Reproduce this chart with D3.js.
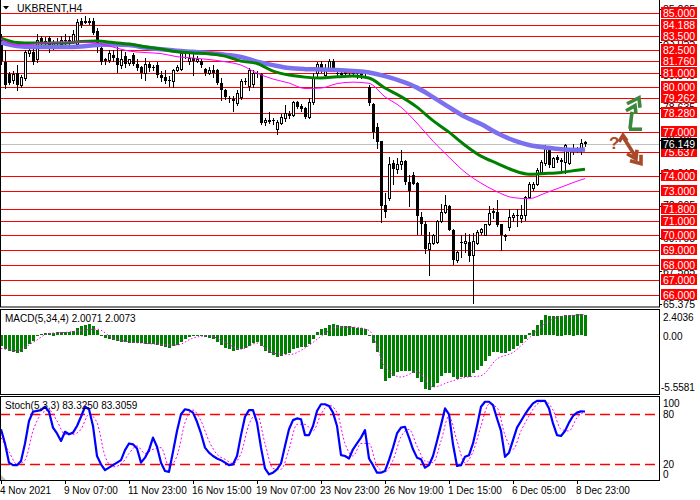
<!DOCTYPE html>
<html>
<head>
<meta charset="utf-8">
<script src="https://cdn.jsdelivr.net/npm/d3@7"></script>
<style>
  html, body { margin: 0; padding: 0; background: #fff; }
  svg { display: block; font-family: "Liberation Sans", Arial, sans-serif; }
</style>
</head>
<body>
<svg id="chart" width="700" height="500"></svg>
<script>
// ---- candles (H4) ----
const openP = [
  83.40, 81.70, 80.90, 80.50, 80.95, 80.15, 80.60, 82.30, 82.40, 81.90,
  83.30, 83.10, 83.30, 82.80, 83.00, 82.90, 83.20, 83.10, 83.10, 82.90,
  84.50, 84.45, 84.40, 84.45, 83.80, 82.65, 81.90, 81.85, 82.20, 82.00,
  81.50, 82.10, 81.65, 82.20, 81.60, 81.40, 80.95, 81.60, 81.35, 81.50,
  80.85, 80.70, 80.50, 80.40, 81.20, 81.25, 82.30, 81.80, 82.00, 81.80,
  81.75, 81.25, 80.95, 81.15, 81.20, 80.30, 79.85, 79.30, 79.20, 78.95,
  79.35, 80.40, 80.10, 80.20, 81.00, 80.90, 77.65, 77.75, 77.80, 77.20,
  77.60, 77.90, 78.20, 78.10, 79.00, 78.75, 78.60, 78.00, 79.00, 80.95,
  81.60, 80.85, 81.30, 81.75, 81.00, 80.95, 81.00, 81.05, 81.00, 80.95,
  80.90, 81.00, 80.04, 78.90, 77.33, 76.36, 72.04, 72.49, 74.90, 74.45,
  74.85, 75.00, 73.60, 74.06, 73.55, 71.25, 70.80, 69.10, 69.50, 69.55,
  70.98, 71.60, 71.99, 70.39, 68.32, 69.55, 69.50, 69.55, 68.70, 69.45,
  70.20, 70.05, 70.80, 71.60, 71.60, 70.75, 70.00, 70.57, 71.25, 71.35,
  71.14, 71.36, 72.60, 73.17, 73.50, 74.30, 74.86, 75.80, 74.63, 75.30,
  75.08, 74.97, 74.86, 75.90, 75.80, 75.86, 76.32
];
const highP = [
  83.60, 82.50, 81.05, 81.10, 81.50, 80.80, 82.50, 82.70, 82.60, 83.60,
  83.50, 83.40, 83.50, 83.20, 83.30, 83.50, 83.60, 83.50, 83.90, 84.60,
  84.70, 84.80, 84.70, 84.70, 84.00, 82.90, 82.00, 82.50, 82.50, 82.70,
  82.50, 82.40, 81.90, 82.30, 81.90, 81.45, 82.00, 81.70, 81.50, 81.70,
  81.10, 81.20, 80.75, 81.25, 81.50, 82.40, 82.50, 82.30, 82.30, 82.10,
  81.90, 81.30, 81.40, 81.50, 81.25, 80.60, 79.90, 79.40, 79.40, 79.80,
  80.55, 80.60, 81.30, 81.20, 81.10, 81.00, 77.90, 78.30, 77.90, 77.80,
  78.20, 78.80, 78.40, 79.05, 79.10, 78.90, 78.70, 79.30, 81.00, 81.70,
  81.75, 81.60, 81.90, 81.90, 81.20, 81.20, 81.20, 81.20, 81.15, 81.10,
  81.10, 81.10, 80.15, 78.95, 77.56, 76.40, 72.83, 75.30, 75.08, 75.20,
  75.80, 75.10, 74.10, 74.30, 73.60, 71.60, 71.00, 70.20, 70.10, 71.02,
  72.10, 72.70, 72.04, 70.46, 68.93, 70.00, 70.15, 70.10, 70.16, 70.39,
  70.50, 70.80, 71.97, 71.88, 72.42, 70.80, 70.10, 71.75, 71.50, 71.75,
  72.04, 72.65, 73.60, 73.60, 74.52, 75.08, 76.10, 75.98, 75.30, 75.42,
  75.20, 76.16, 75.90, 76.16, 76.00, 76.50, 76.39
];
const lowP = [
  81.60, 79.95, 80.20, 80.30, 79.80, 80.00, 80.50, 82.10, 81.60, 81.70,
  82.90, 82.80, 82.40, 82.60, 82.70, 82.80, 82.90, 82.90, 83.00, 82.80,
  84.10, 84.35, 84.30, 83.60, 82.40, 81.60, 81.60, 81.70, 81.80, 81.05,
  81.30, 81.40, 81.50, 81.50, 81.20, 80.60, 80.50, 81.10, 81.20, 80.70,
  80.40, 80.30, 80.10, 80.05, 81.10, 81.15, 82.00, 81.60, 80.80, 81.70,
  81.40, 80.80, 80.90, 80.70, 80.20, 79.14, 79.20, 79.00, 78.40, 78.80,
  79.20, 80.20, 79.80, 80.00, 80.70, 77.50, 77.45, 77.60, 77.50, 76.85,
  77.50, 77.75, 77.90, 78.05, 78.60, 78.40, 77.95, 77.90, 78.90, 80.70,
  81.05, 80.70, 81.20, 81.10, 80.80, 80.80, 80.90, 80.85, 80.80, 80.60,
  80.60, 80.85, 78.80, 76.60, 75.93, 70.90, 71.25, 72.37, 73.50, 74.20,
  74.50, 73.50, 72.00, 73.45, 70.10, 70.10, 68.80, 67.30, 69.44, 69.50,
  70.90, 71.50, 70.35, 68.05, 68.20, 68.55, 68.90, 68.30, 65.40, 69.40,
  70.10, 70.00, 70.70, 71.20, 70.62, 68.99, 69.70, 70.35, 71.00, 70.62,
  70.90, 71.02, 72.55, 73.05, 73.40, 74.20, 74.74, 74.63, 74.63, 74.97,
  74.40, 74.18, 74.80, 75.53, 75.60, 75.53, 76.03
];
const closeP = [
  81.75, 80.15, 80.30, 80.90, 80.15, 80.70, 82.40, 82.50, 81.70, 83.20,
  83.05, 83.15, 82.70, 83.00, 82.90, 83.20, 83.10, 83.20, 83.60, 84.40,
  84.20, 84.35, 84.50, 83.65, 82.70, 81.70, 81.80, 82.30, 81.95, 81.50,
  81.90, 81.60, 81.90, 81.60, 81.30, 80.95, 81.60, 81.30, 81.30, 80.85,
  80.60, 80.40, 80.40, 81.20, 81.40, 82.30, 82.25, 82.00, 81.80, 81.90,
  81.50, 80.95, 81.15, 81.00, 80.30, 79.80, 79.35, 79.20, 79.10, 79.60,
  80.40, 80.35, 81.15, 81.00, 80.90, 77.60, 77.80, 77.80, 77.70, 77.67,
  78.00, 78.25, 78.05, 79.00, 78.70, 78.55, 78.00, 79.00, 80.70, 81.60,
  81.30, 81.30, 81.75, 81.30, 80.90, 81.00, 81.05, 81.00, 80.95, 80.90,
  81.00, 80.95, 78.91, 76.99, 76.32, 71.99, 71.58, 74.85, 74.50, 74.85,
  75.05, 73.60, 73.00, 73.50, 71.30, 70.80, 69.10, 69.50, 70.00, 70.98,
  71.58, 72.04, 70.39, 68.32, 68.88, 69.50, 69.60, 68.60, 69.60, 70.23,
  70.45, 70.80, 71.50, 71.65, 70.69, 70.00, 69.90, 71.25, 71.35, 71.30,
  71.36, 72.60, 73.50, 73.50, 74.41, 74.97, 75.98, 74.75, 75.20, 75.08,
  74.97, 76.10, 75.75, 75.80, 75.85, 76.25, 76.149
];
const lastPrice = 76.149;

// ---- moving averages, read every 4th bar ----
const maIdx = [0, 4, 8, 12, 16, 20, 24, 28, 32, 36, 40, 44, 48, 52, 56, 60, 64, 68, 72,
  76, 80, 84, 88, 92, 96, 100, 104, 108, 112, 116, 120, 124, 128, 132, 136, 140, 144, 146];
const maSlow = [83.03, 82.79, 82.72, 82.72, 82.72, 82.76, 82.86, 82.89, 82.86, 82.69,
  82.57, 82.47, 82.40, 82.32, 82.21, 82.05, 81.74, 81.50, 81.30, 81.23, 81.21, 81.17,
  81.10, 81.00, 80.76, 80.42, 79.98, 79.34, 78.66, 78.01, 77.52, 76.91, 76.43, 76.10,
  75.94, 75.81, 75.77, 75.80];
const maMid = [83.33, 83.03, 82.99, 82.99, 82.99, 83.09, 83.13, 83.03, 82.92, 82.74,
  82.59, 82.40, 82.32, 82.27, 82.11, 81.77, 81.61, 81.10, 80.83, 80.69, 80.63, 80.71,
  80.76, 80.63, 79.95, 79.37, 78.66, 77.75, 76.97, 76.09, 75.35, 74.87, 74.40, 74.13,
  74.18, 74.25, 74.40, 74.47];
const maFast = [83.26, 82.86, 82.92, 83.03, 83.06, 83.06, 82.99, 82.72, 82.45, 82.35,
  82.28, 82.07, 81.98, 81.88, 81.73, 81.50, 80.96, 80.56, 80.29, 79.92, 79.95, 80.25,
  80.35, 80.27, 79.36, 78.66, 77.58, 76.36, 75.28, 74.27, 73.53, 72.95, 72.55, 72.48,
  72.85, 73.25, 73.66, 73.84];

// ---- horizontal levels and price axis ----
const levels = [85.000, 84.188, 83.500, 82.500, 81.760, 81.000, 80.000, 79.262, 78.280,
  77.000, 75.637, 74.000, 73.000, 71.800, 71.000, 70.000, 69.000, 68.000, 67.000, 66.000];
const priceTicks = [65.375, 67.585, 69.795, 72.005, 74.215, 76.425, 78.635, 80.845, 83.055, 85.265];

// ---- MACD(5,34,4) ----
const macdHist = [
  -1.06, -1.32, -1.54, -1.64, -1.77, -1.64, -1.32, -0.90, -0.58, -0.10,
  0.13, 0.23, 0.23, 0.26, 0.32, 0.29, 0.32, 0.32, 0.39, 0.71,
  0.87, 1.03, 1.09, 0.87, 0.48, -0.03, -0.26, -0.35, -0.48, -0.58,
  -0.64, -0.68, -0.74, -0.74, -0.77, -0.80, -0.84, -0.87, -0.84, -0.93,
  -1.06, -1.16, -1.22, -1.06, -0.93, -0.68, -0.35, -0.16, -0.10, -0.03,
  -0.10, -0.16, -0.26, -0.42, -0.68, -1.00, -1.22, -1.38, -1.54, -1.48,
  -1.38, -1.22, -1.06, -0.80, -0.68, -1.06, -1.54, -1.77, -1.96, -2.09,
  -2.03, -1.86, -1.70, -1.38, -1.22, -1.16, -1.13, -0.90, -0.35, 0.29,
  0.61, 0.71, 1.03, 1.13, 1.03, 0.93, 0.93, 0.87, 0.77, 0.71,
  0.68, 0.61, 0.06, -0.80, -1.64, -3.31, -4.44, -4.12, -3.95, -3.57,
  -3.47, -3.50, -3.50, -3.63, -4.18, -4.53, -5.18, -5.31, -4.98, -4.66,
  -3.95, -3.70, -3.70, -4.02, -4.28, -4.05, -4.05, -4.02, -3.70, -3.38,
  -2.99, -2.51, -2.03, -1.64, -1.64, -1.77, -1.77, -1.54, -1.32, -1.06,
  -0.80, -0.42, 0.23, 0.55, 1.03, 1.45, 1.93, 1.83, 1.83, 1.90,
  1.90, 1.96, 1.93, 1.99, 2.06, 2.06, 2.0071
];
const macdSignal = [-1.25, -1.45, -0.68, 0.19, 0.29, 0.48, 0.61, -0.26, -0.61, -0.77,
  -0.87, -0.93, -0.26, -0.03, -0.68, -1.32, -0.74, -1.70, -1.86, -1.22, -0.10, 0.80,
  0.80, 0.48, -2.99, -4.02, -3.50, -4.98, -4.50, -4.05, -3.89, -2.28, -1.64, -0.26,
  1.13, 1.83, 1.96, 2.0073];
const macdTicks = [2.4036, 0.00, -5.5581];

// ---- Stochastic(5,3,3) ----
const stochMain = [
  62, 45, 22, 19, 19, 24, 45, 72, 83, 84,
  85, 89, 83, 64, 57, 48, 59, 56, 58, 66,
  77, 89, 86, 66, 30, 20, 13, 16, 19, 22,
  25, 37, 45, 44, 39, 22, 28, 37, 52, 41,
  22, 12, 11, 35, 60, 80, 86, 85, 82, 71,
  57, 40, 34, 30, 27, 25, 22, 19, 20, 30,
  55, 77, 85, 85, 70, 40, 15, 8, 10, 14,
  21, 42, 62, 73, 75, 74, 55, 55, 66, 84,
  92, 92, 90, 82, 66, 31, 30, 27, 38, 45,
  52, 61, 27, 19, 10, 10, 12, 25, 40, 57,
  64, 65, 52, 38, 28, 26, 16, 19, 30, 48,
  67, 87, 80, 44, 18, 19, 29, 31, 45, 66,
  89, 95, 95, 91, 75, 60, 29, 34, 49, 64,
  72, 80, 87, 93, 96, 96, 96, 87, 69, 55,
  54, 60, 70, 78, 82, 83.5, 83.325
];
// signal line read every 2nd bar
const stochSignal = [52, 35, 20, 25, 60, 80, 85, 72, 56, 56, 62, 80, 70, 30, 17, 20, 33,
  42, 33, 38, 40, 18, 30, 70, 85, 72, 48, 32, 26, 21, 33, 68, 80, 45, 15, 14, 38, 68, 68,
  60, 80, 91, 82, 45, 30, 45, 45, 18, 11, 25, 53, 62, 42, 24, 22, 48, 78, 48, 22, 35, 66,
  92, 88, 55, 38, 60, 78, 92, 96, 85, 62, 60, 76, 83.3059];
const stochLevels = [80, 20];
const stochTicks = [100, 80, 20, 0];

// ---- time axis ----
const timeIdx = [0, 16, 32, 48, 64, 80, 96, 112, 128, 144];
const timeLabels = ["4 Nov 2021", "9 Nov 07:00", "11 Nov 23:00", "16 Nov 15:00", "19 Nov 07:00",
  "23 Nov 23:00", "26 Nov 19:00", "1 Dec 15:00", "6 Dec 05:00", "8 Dec 23:00"];

// ================= drawing =================
const svg = d3.select("#chart");
const R = 659;             // right edge of the plot area
const MAIN = [0, 307], MACD = [309, 394], STO = [396, 480];

const x = d3.scaleLinear().domain([0, closeP.length - 1]).range([1, 585]);
const yP = d3.scaleLinear().domain([65.16, 85.9]).range([MAIN[1], MAIN[0]]);
const yM = d3.scaleLinear().domain([-5.5581, 2.4036]).range([393, 310.5]);
const yS = d3.scaleLinear().domain([0, 100]).range([481, 397.6]);
const px = i => Math.round(x(i));
const crisp = v => Math.round(v) + 0.5;

const bars = closeP.map((c, i) => ({ i, o: openP[i], h: highP[i], l: lowP[i], c }));

const defs = svg.append("defs");
defs.append("clipPath").attr("id", "clipMain")
  .append("rect").attr("x", 0).attr("y", 0).attr("width", R).attr("height", MAIN[1]);
defs.append("clipPath").attr("id", "clipSto")
  .append("rect").attr("x", 0).attr("y", STO[0]).attr("width", R).attr("height", STO[1] - STO[0]);

// ---- main window ----
const main = svg.append("g").attr("clip-path", "url(#clipMain)");

main.selectAll("line.level").data(levels).join("line")
  .attr("class", "level")
  .attr("x1", 0).attr("x2", R)
  .attr("y1", d => crisp(yP(d))).attr("y2", d => crisp(yP(d)))
  .attr("stroke", "#ff0000").attr("stroke-width", 1);

main.append("line")
  .attr("x1", 0).attr("x2", R)
  .attr("y1", crisp(yP(lastPrice))).attr("y2", crisp(yP(lastPrice)))
  .attr("stroke", "#c0c0c0").attr("stroke-width", 1);

// candles
main.selectAll("line.wick").data(bars).join("line")
  .attr("class", "wick")
  .attr("x1", d => px(d.i) + 0.5).attr("x2", d => px(d.i) + 0.5)
  .attr("y1", d => Math.round(yP(d.h))).attr("y2", d => Math.round(yP(d.l)) + 1)
  .attr("stroke", "#000").attr("stroke-width", 1);

main.selectAll("rect.body").data(bars).join("rect")
  .attr("class", "body")
  .each(function (d) {
    const top = Math.round(yP(Math.max(d.o, d.c)));
    const bot = Math.round(yP(Math.min(d.o, d.c)));
    const r = d3.select(this);
    if (d.c >= d.o) {
      r.attr("x", px(d.i) - 0.5).attr("width", 2)
        .attr("y", top + 0.5).attr("height", Math.max(bot - top, 1))
        .attr("fill", "#fff").attr("stroke", "#000").attr("stroke-width", 1);
    } else {
      r.attr("x", px(d.i) - 1).attr("width", 3)
        .attr("y", top).attr("height", Math.max(bot - top, 1))
        .attr("fill", "#000");
    }
  });

// moving averages
const maLine = d3.line().x(d => x(d[0])).y(d => yP(d[1])).curve(d3.curveMonotoneX);
[[maSlow, "#7b70ee", 4.5], [maMid, "#008000", 3], [maFast, "#ff00ff", 1]].forEach(([vals, col, w]) => {
  main.append("path")
    .datum(maIdx.map((i, k) => [i, vals[k]]))
    .attr("d", maLine)
    .attr("fill", "none").attr("stroke", col).attr("stroke-width", w);
});

// analyst arrows, anchored right of the last bar
const ax = x(closeP.length - 1), ay = yP(77.0);
const up = svg.append("g").attr("transform", `translate(${ax},${ay})`)
  .attr("fill", "none").attr("stroke", "#3b873b").attr("stroke-width", 3.6)
  .attr("stroke-linejoin", "miter");
up.append("path").attr("d", "M44,-2.5 L57,-2.5");
up.append("path").attr("d", "M45,-3 L47,-20");
up.append("path").attr("d", "M42,-28 L54,-34 L55,-24");
up.append("path").attr("d", "M41,-21 L50,-26 L51,-18");

const dn = svg.append("g").attr("transform", `translate(${ax},${ay})`)
  .attr("fill", "none").attr("stroke", "#a74a2a").attr("stroke-width", 3.6)
  .attr("stroke-linejoin", "miter");
dn.append("path").attr("d", "M34,10 L38,3.5 L42,9");
dn.append("path").attr("d", "M38,5 L50,24");
dn.append("path").attr("d", "M42,22 L51,27 L52,18");
dn.append("path").attr("d", "M45,29 L56,32 L56,23");
svg.append("text").attr("x", ax + 24).attr("y", ay + 17)
  .attr("fill", "#a74a2a").attr("font-size", 17).attr("font-weight", "bold").text("?");

// main frame
svg.append("rect").attr("x", 0.5).attr("y", -0.5).attr("width", R).attr("height", MAIN[1] + 0.5)
  .attr("fill", "none").attr("stroke", "#000");

// price axis labels (mostly covered by the level boxes, as in the terminal)
svg.selectAll("text.ptick").data(priceTicks).join("text")
  .attr("class", "ptick")
  .attr("x", 663).attr("y", d => yP(d) + 3.8)
  .attr("font-size", 10.5).attr("fill", "#000").text(d => d.toFixed(3));
svg.selectAll("line.ptick").data(priceTicks).join("line")
  .attr("class", "ptick")
  .attr("x1", R).attr("x2", R + 3)
  .attr("y1", d => crisp(yP(d))).attr("y2", d => crisp(yP(d)))
  .attr("stroke", "#000");

const lvl = svg.selectAll("g.lvl").data(levels).join("g").attr("class", "lvl");
lvl.append("rect")
  .attr("x", 661).attr("width", 36)
  .attr("y", d => Math.round(yP(d)) - 6).attr("height", 11)
  .attr("fill", "#ff0000");
lvl.append("text")
  .attr("x", 663).attr("y", d => Math.round(yP(d)) + 3.8)
  .attr("font-size", 10.5).attr("fill", "#fff").text(d => d.toFixed(3));

svg.append("rect").attr("x", 661).attr("width", 36)
  .attr("y", Math.round(yP(lastPrice)) - 6).attr("height", 11).attr("fill", "#000");
svg.append("text").attr("x", 663).attr("y", Math.round(yP(lastPrice)) + 3.8)
  .attr("font-size", 10.5).attr("fill", "#fff").text(lastPrice.toFixed(3));

// title
svg.append("path").attr("d", "M3,6 L9,6 L6,9.5 Z").attr("fill", "#000");
svg.append("text").attr("x", 17).attr("y", 11.5).attr("font-size", 10.5).attr("fill", "#000")
  .text("UKBRENT,H4");

// ---- MACD window ----
const mg = svg.append("g");
mg.selectAll("rect.hist").data(macdHist).join("rect")
  .attr("class", "hist")
  .attr("x", (d, i) => px(i) - 1).attr("width", 3)
  .attr("y", d => Math.round(Math.min(yM(0), yM(d))))
  .attr("height", d => Math.max(1, Math.round(Math.abs(yM(d) - yM(0)))))
  .attr("fill", "#008000");
mg.append("path")
  .datum(maIdx.map((i, k) => [i, macdSignal[k]]))
  .attr("d", d3.line().x(d => x(d[0])).y(d => yM(d[1])).curve(d3.curveMonotoneX))
  .attr("fill", "none").attr("stroke", "#ff00ff").attr("stroke-width", 1)
  .attr("stroke-dasharray", "1.5,2");
svg.append("rect").attr("x", 0.5).attr("y", MACD[0] + 0.5).attr("width", R)
  .attr("height", MACD[1] - MACD[0]).attr("fill", "none").attr("stroke", "#000");
svg.append("text").attr("x", 5).attr("y", 321.5).attr("font-size", 10).attr("fill", "#000")
  .text("MACD(5,34,4) 2.0071 2.0073");
const macdLabelY = [320.5, 339.5, 390.5];
svg.selectAll("text.mtick").data(macdTicks).join("text")
  .attr("class", "mtick")
  .attr("x", d => d < 0 ? 661 : 663).attr("y", (d, k) => macdLabelY[k])
  .attr("font-size", 10).attr("fill", "#000")
  .text(d => d === 0 ? "0.00" : d.toFixed(4));

// ---- Stochastic window ----
const sg = svg.append("g").attr("clip-path", "url(#clipSto)");
sg.selectAll("line.slevel").data(stochLevels).join("line")
  .attr("class", "slevel")
  .attr("x1", 0).attr("x2", R)
  .attr("y1", d => crisp(yS(d))).attr("y2", d => crisp(yS(d)))
  .attr("stroke", "#ff0000").attr("stroke-width", 1.3).attr("stroke-dasharray", "10,5");
sg.append("path")
  .datum(stochSignal.map((v, k) => [k * 2, v]))
  .attr("d", d3.line().x(d => x(d[0])).y(d => yS(d[1])).curve(d3.curveMonotoneX))
  .attr("fill", "none").attr("stroke", "#ff00ff").attr("stroke-width", 1)
  .attr("stroke-dasharray", "2,2");
sg.append("path")
  .datum(stochMain)
  .attr("d", d3.line().x((d, i) => x(i)).y(d => yS(d)))
  .attr("fill", "none").attr("stroke", "#0000ff").attr("stroke-width", 2.2)
  .attr("stroke-linejoin", "round");
svg.append("path").attr("d", `M0,${STO[1] - 6} L0,${STO[1]} L6,${STO[1]} Z`).attr("fill", "#c0c0c0");
svg.append("rect").attr("x", 0.5).attr("y", STO[0] + 0.5).attr("width", R)
  .attr("height", STO[1] - STO[0]).attr("fill", "none").attr("stroke", "#000");
svg.append("text").attr("x", 5).attr("y", 409).attr("font-size", 10).attr("fill", "#000")
  .text("Stoch(5,3,3) 83.3250 83.3059");
const stochLabelY = [406.5, 418, 468, 477.5];
svg.selectAll("text.stick").data(stochTicks).join("text")
  .attr("class", "stick")
  .attr("x", 663).attr("y", (d, k) => stochLabelY[k])
  .attr("font-size", 10).attr("fill", "#000").text(d => d);

// ---- time axis ----
svg.selectAll("line.ttick").data(timeIdx).join("line")
  .attr("class", "ttick")
  .attr("x1", d => px(d) + 0.5).attr("x2", d => px(d) + 0.5)
  .attr("y1", STO[1]).attr("y2", STO[1] + 4)
  .attr("stroke", "#000");
svg.selectAll("text.ttick").data(timeIdx).join("text")
  .attr("class", "ttick")
  .attr("x", d => Math.max(0, px(d) - 1)).attr("y", 494)
  .attr("font-size", 10).attr("fill", "#000")
  .text((d, k) => timeLabels[k]);
</script>
</body>
</html>
